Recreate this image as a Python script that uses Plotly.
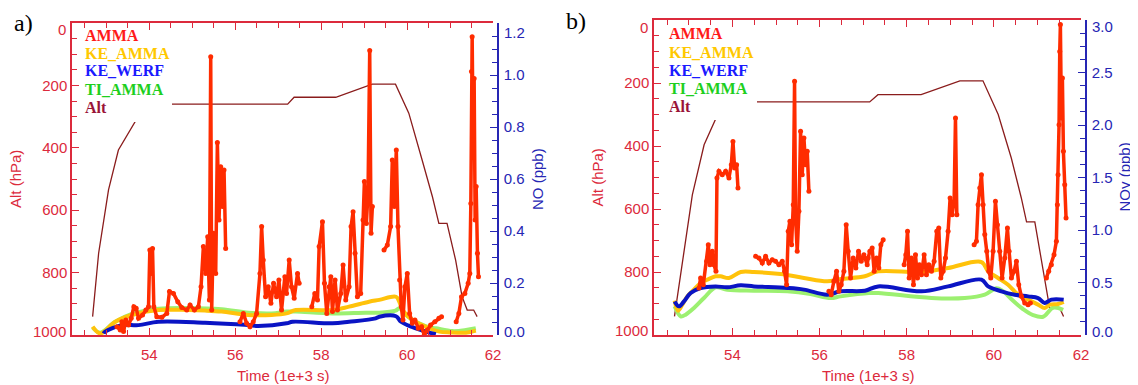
import plotly.graph_objects as go

W, H = 1138, 385
OFF = 8  # page body margin in the browser

# ---------------- Panel a data ----------------
alt_a_t = [52.68, 52.82, 53.05, 53.28, 53.67, 54.0, 54.3, 54.52, 57.22, 57.37, 58.34, 59.19, 59.73,
           60.04, 60.35, 60.59, 60.74, 60.93, 61.13, 61.28, 61.40, 61.55, 61.63]
alt_a_p = [941, 738, 535, 407, 316, 280, 262, 260, 260, 238, 238, 196, 196,
           289, 439, 557, 642, 642, 760, 877, 920, 920, 941]

red_a_t = [53.245, 53.323, 53.361, 53.40, 53.454, 53.516, 53.578, 53.640, 53.694, 53.749, 53.842, 53.919,
           53.981, 54.012, 54.043, 54.074, 54.105, 54.174, 54.291, 54.407, 54.469, 54.562, 54.662, 54.755,
           54.871, 54.949, 55.049, 55.142, 55.204, 55.258, 55.313, 55.359, 55.398, 55.429, 55.452, 55.491,
           55.545, 55.584, 55.622, 55.661, 55.70, 55.739, 55.777, None,
           56.110, 56.188, 56.265, 56.342, 56.42, 56.497, 56.575, 56.614, 56.652, 56.706, 56.768, 56.830,
           56.892, 56.962, 57.016, 57.078, 57.155, 57.194, 57.256, 57.31, 57.372, 57.45, 57.488, None,
           57.782, 57.852, 57.914, 57.953, 58.03, 58.077, 58.131, 58.185, 58.224, 58.263, 58.324, 58.379,
           58.456, 58.51, 58.572, 58.65, 58.696, 58.743, 58.789, 58.843, 58.92, 58.975, 59.006, 59.052,
           59.091, 59.13, 59.161, 59.192, None,
           59.463, 59.54, 59.617, 59.656, 59.703, 59.749, 59.788, 59.827, 59.865, 59.904, 59.95, 60.005,
           60.059, 60.121, 60.183, 60.26, 60.338, 60.40, 60.469, 60.547, 60.647, 60.74, 60.802, None,
           61.143, 61.205, 61.267, 61.345, 61.422, 61.46, 61.484, 61.499, 61.515, 61.538, 61.561, 61.584,
           61.608, 61.638, 61.662]
red_a_no = [0.032, 0.019, 0.051, 0.013, 0.058, 0.038, 0.064, 0.109, 0.103, 0.064, 0.077, 0.096,
            0.109, 0.327, 0.237, 0.333, 0.109, 0.070, 0.068, 0.083, 0.167, 0.160, 0.128, 0.106,
            0.096, 0.115, 0.096, 0.109, 0.186, 0.340, 0.237, 0.378, 0.135, 1.070, 0.096, 0.391,
            0.237, 0.740, 0.442, 0.647, 0.494, 0.635, 0.333, None,
            0.051, 0.083, 0.045, 0.032, 0.051, 0.083, 0.237, 0.417, 0.288, 0.147, 0.186, 0.122,
            0.199, 0.147, 0.212, 0.096, 0.224, 0.160, 0.288, 0.186, 0.141, 0.237, 0.199, None,
            0.109, 0.160, 0.135, 0.340, 0.436, 0.199, 0.083, 0.186, 0.224, 0.090, 0.212, 0.096,
            0.160, 0.269, 0.135, 0.186, 0.417, 0.474, 0.314, 0.147, 0.160, 0.442, 0.590, 0.429,
            0.545, 1.094, 0.391, 0.494, None,
            0.327, 0.346, 0.417, 0.673, 0.494, 0.712, 0.417, 0.212, 0.109, 0.058, 0.186, 0.237,
            0.083, 0.045, 0.058, 0.026, 0.032, 0.0, 0.019, 0.038, 0.051, 0.064, 0.070, None,
            0.051, 0.083, 0.147, 0.160, 0.199, 0.237, 0.506, 1.013, 1.147, 0.750, 0.987, 0.442,
            0.571, 0.314, 0.224]

ke_amma_a_t = [52.68, 52.858, 53.207, 53.594, 54.213, 54.91, 55.297, 55.684, 56.304, 56.846, 57.194,
               57.41, 58.262, 58.65, 59.114, 59.354, 59.742, 59.819, 59.896, 60.128, 60.516, 60.75,
               61.0, 61.37, 61.6]
ke_amma_a = [0.032, 0.006, 0.051, 0.077, 0.096, 0.096, 0.094, 0.090, 0.077, 0.077, 0.083,
             0.096, 0.096, 0.109, 0.128, 0.135, 0.147, 0.128, 0.096, 0.058, 0.026, 0.013,
             0.010, 0.009, 0.017]

ke_werf_a_t = [52.935, 52.974, 53.361, 53.749, 54.213, 55.297, 56.304, 56.536, 57.194, 57.333, 58.262,
               58.65, 59.269, 59.354, 59.742, 59.858, 60.128, 60.439, 60.67]
ke_werf_a = [0.006, 0.013, 0.038, 0.038, 0.051, 0.047, 0.038, 0.035, 0.045, 0.051, 0.045,
             0.051, 0.064, 0.070, 0.072, 0.051, 0.030, 0.013, 0.003]

ti_amma_a_t = [52.68, 52.858, 53.207, 53.594, 54.213, 54.91, 55.684, 56.304, 56.846, 57.194, 57.41,
               58.262, 59.037, 59.354, 59.734, 59.819, 59.974, 60.128, 60.28, 60.516, 60.67, 61.06,
               61.37, 61.6]
ti_amma_a = [0.029, 0.009, 0.051, 0.081, 0.101, 0.104, 0.099, 0.086, 0.083, 0.090, 0.090,
             0.083, 0.086, 0.086, 0.094, 0.103, 0.077, 0.058, 0.045, 0.030, 0.026, 0.015,
             0.019, 0.026]

# ---------------- Panel b data ----------------
alt_b_t = [52.67, 52.89, 53.08, 53.35, 53.61, 54.0, 54.3, 54.53, 57.15, 57.34, 58.33, 59.22, 59.75,
           60.10, 60.40, 60.63, 60.75, 60.94, 61.09, 61.20, 61.28, 61.51, 61.60]
alt_b_p = [941, 734, 555, 396, 316, 280, 263, 260, 260, 237, 237, 193, 193,
           300, 438, 565, 641, 641, 756, 851, 914, 914, 941]

red_b_t = [53.232, 53.27, 53.331, 53.408, 53.446, 53.484, 53.538, 53.576, 53.622, 53.645, 53.691,
           53.767, 53.844, 53.92, 53.974, 54.012, 54.05, 54.096, 54.127, None,
           54.532, 54.608, 54.685, 54.761, 54.838, 54.914, 54.99, 55.067, 55.143, 55.197, 55.243,
           55.281, 55.319, 55.358, 55.396, 55.426, 55.449, 55.487, 55.526, 55.564, 55.602, 55.641,
           55.679, 55.717, 55.755, None,
           56.214, 56.267, 56.328, 56.39, 56.443, 56.497, 56.558, 56.611, 56.657, 56.711, 56.772,
           56.833, 56.894, 56.956, 57.017, 57.093, 57.115, 57.154, 57.207, 57.253, 57.307, 57.36,
           57.406, 57.46, None,
           57.941, 57.979, 58.018, 58.056, 58.109, 58.155, 58.201, 58.247, 58.293, 58.339, 58.40,
           58.453, 58.507, 58.568, 58.629, 58.69, 58.736, 58.782, 58.836, 58.89, 58.95, 58.996,
           59.042, 59.088, 59.119, 59.15, None,
           59.547, 59.60, 59.638, 59.677, 59.715, 59.753, 59.791, 59.837, 59.883, 59.929, 59.982,
           60.036, 60.082, 60.135, 60.189, 60.25, 60.311, 60.35, 60.403, 60.464, 60.518, 60.571,
           60.632, 60.709, 60.785, 60.839, None,
           61.206, 61.259, 61.32, 61.381, 61.435, 61.458, 61.473, 61.496, 61.512, 61.527, 61.55,
           61.573, 61.596, 61.626, 61.657]
red_b_noy = [0.448, 0.543, 0.479, 0.702, 0.860, 0.670, 0.797, 0.670, 0.606, 1.495, 1.559,
             1.527, 1.559, 1.495, 1.622, 1.844, 1.590, 1.622, 1.400, None,
             0.749, 0.733, 0.686, 0.749, 0.686, 0.717, 0.702, 0.670, 0.702, 0.606, 0.479,
             0.987, 1.083, 0.860, 1.241, 2.416, 1.114, 0.797, 1.178, 1.940, 1.527, 1.876,
             1.622, 1.749, 1.368, None,
             0.416, 0.384, 0.511, 0.606, 0.416, 0.479, 0.606, 1.051, 0.797, 0.543, 0.733,
             0.638, 0.797, 0.702, 0.765, 0.670, 0.733, 0.797, 0.829, 0.606, 0.733, 0.638,
             0.860, 0.908, None,
             0.670, 0.765, 0.987, 0.543, 0.733, 0.479, 0.765, 0.543, 0.670, 0.575, 0.765,
             0.575, 0.670, 0.606, 0.702, 0.987, 1.019, 0.543, 0.606, 0.733, 0.987, 1.305,
             1.146, 1.273, 2.067, 1.146, None,
             0.860, 0.892, 1.241, 1.400, 1.527, 1.241, 0.956, 0.797, 0.606, 0.543, 0.797,
             1.273, 1.051, 0.797, 0.543, 0.733, 1.019, 0.797, 0.543, 0.606, 0.702, 0.479,
             0.368, 0.305, 0.289, 0.305, None,
             0.543, 0.606, 0.670, 0.765, 0.892, 1.241, 1.527, 2.003, 2.700, 2.956, 2.067,
             2.448, 1.749, 1.432, 1.114]

ke_amma_b_t = [52.674, 52.75, 52.85, 52.965, 53.117, 53.27, 53.423, 53.614, 53.729, 53.92, 54.188,
               54.494, 55.105, 55.64, 56.175, 56.481, 57.039, 57.345, 58.339, 58.95, 59.715, 59.868,
               60.097, 60.326, 60.556, 60.785, 61.015, 61.167, 61.282, 61.473, 61.603]
ke_amma_b = [0.327, 0.232, 0.289, 0.368, 0.432, 0.495, 0.527, 0.559, 0.559, 0.543, 0.600,
             0.600, 0.581, 0.543, 0.511, 0.533, 0.559, 0.606, 0.600, 0.638, 0.695, 0.606,
             0.543, 0.479, 0.384, 0.337, 0.289, 0.257, 0.289, 0.295, 0.314]

ke_werf_b_t = [52.674, 52.773, 52.888, 53.041, 53.27, 53.614, 53.882, 54.188, 54.494, 55.258, 55.64,
               56.175, 56.481, 57.039, 57.345, 58.339, 58.95, 59.715, 59.868, 60.174, 60.48, 60.785,
               61.015, 61.167, 61.32, 61.603]
ke_werf_b = [0.320, 0.273, 0.320, 0.400, 0.448, 0.463, 0.454, 0.473, 0.463, 0.448, 0.432,
             0.384, 0.416, 0.422, 0.463, 0.416, 0.463, 0.527, 0.463, 0.416, 0.384, 0.368,
             0.352, 0.305, 0.337, 0.337]

ti_amma_b_t = [52.674, 52.812, 52.926, 53.117, 53.347, 53.614, 53.882, 54.494, 55.258, 55.793, 56.252,
               56.481, 57.132, 57.345, 58.568, 59.333, 59.792, 60.06, 60.20, 60.43, 60.66, 60.90,
               61.13, 61.36, 61.59]
ti_amma_b = [0.273, 0.178, 0.194, 0.257, 0.352, 0.454, 0.432, 0.422, 0.416, 0.390, 0.352,
             0.368, 0.400, 0.400, 0.352, 0.352, 0.384, 0.445, 0.420, 0.330, 0.250, 0.190,
             0.174, 0.260, 0.240]

x_ticks = [54, 56, 58, 60, 62]
alt_ticks = [0, 200, 400, 600, 800, 1000]
alt_labels = ["0", "200", "400", "600", "800", "1000"]
no_ticks = [0.0, 0.2, 0.4, 0.6, 0.8, 1.0, 1.2]
no_labels = ["0.0", "0.2", "0.4", "0.6", "0.8", "1.0", "1.2"]
noy_ticks = [0.0, 0.5, 1.0, 1.5, 2.0, 2.5, 3.0]
noy_labels = ["0.0", "0.5", "1.0", "1.5", "2.0", "2.5", "3.0"]
legend_names = ["AMMA", "KE_AMMA", "KE_WERF", "TI_AMMA", "Alt"]

# ---------------- styles ----------------
RED_AX = "#dc2a3c"
BLUE_AX = "#2626b4"
C_RED = "#ff2c00"
C_YEL = "#ffc20a"
C_BLU = "#0a14c4"
C_GRN = "#9cf070"
C_ALT = "#8a1c1c"
LEG_COLORS = ["#ff1a1a", "#ffc800", "#1a1aff", "#1ecf1e", "#9a1438"]
SANS = "Liberation Sans, Arial, sans-serif"
SERIF = "Liberation Serif, Times New Roman, serif"


def px(x):
    return (x - OFF) / W


def py(y):
    return 1 - (y - OFF) / H


fig = go.Figure()

panels = [
    dict(xa="x", ya="y", ya2="y2", alt_t=alt_a_t, alt_p=alt_a_p, red_t=red_a_t, red_v=red_a_no,
         ke_t=ke_amma_a_t, ke=ke_amma_a, kw_t=ke_werf_a_t, kw=ke_werf_a, ti_t=ti_amma_a_t, ti=ti_amma_a),
    dict(xa="x2", ya="y3", ya2="y4", alt_t=alt_b_t, alt_p=alt_b_p, red_t=red_b_t, red_v=red_b_noy,
         ke_t=ke_amma_b_t, ke=ke_amma_b, kw_t=ke_werf_b_t, kw=ke_werf_b, ti_t=ti_amma_b_t, ti=ti_amma_b),
]

for p in panels:
    fig.add_trace(go.Scatter(x=p["alt_t"], y=p["alt_p"], mode="lines", xaxis=p["xa"], yaxis=p["ya"],
                             line=dict(color=C_ALT, width=1.3), showlegend=False, hoverinfo="skip"))
    fig.add_trace(go.Scatter(x=p["ti_t"], y=p["ti"], mode="lines", xaxis=p["xa"], yaxis=p["ya2"],
                             line=dict(color=C_GRN, width=4, shape="spline"), showlegend=False))
    fig.add_trace(go.Scatter(x=p["ke_t"], y=p["ke"], mode="lines", xaxis=p["xa"], yaxis=p["ya2"],
                             line=dict(color=C_YEL, width=4, shape="spline"), showlegend=False))
    fig.add_trace(go.Scatter(x=p["kw_t"], y=p["kw"], mode="lines", xaxis=p["xa"], yaxis=p["ya2"],
                             line=dict(color=C_BLU, width=4, shape="spline"), showlegend=False))
    fig.add_trace(go.Scatter(x=p["red_t"], y=p["red_v"], mode="lines+markers", xaxis=p["xa"],
                             yaxis=p["ya2"], connectgaps=False,
                             line=dict(color=C_RED, width=3.5), marker=dict(color=C_RED, size=5),
                             showlegend=False))

# geometry (pixels, as seen in the picture)
A = dict(l=72, r=493, t=23, b=335, rax=498)
B = dict(l=654, r=1081, t=20, b=335, rax=1086)

tickfont_red = dict(family=SANS, size=15, color=RED_AX)
tickfont_blue = dict(family=SANS, size=15, color=BLUE_AX)

def xaxis_cfg(g, anchor):
    return dict(domain=[px(g["l"]), px(g["r"])], anchor=anchor, range=[52.2, 62], automargin=False,
                tickmode="array", tickvals=x_ticks, ticks="inside", ticklen=7, tickwidth=1.2,
                tickcolor=RED_AX, showline=True, linecolor=RED_AX, linewidth=1.5, mirror="ticks",
                showgrid=False, zeroline=False, tickfont=tickfont_red, ticklabelstandoff=5,
                minor=dict(dtick=0.5, tick0=52.5, ticks="inside", ticklen=5, tickcolor=RED_AX,
                           tickwidth=1.2, showgrid=False))

def hide_edges(labels):
    return [""] + labels[1:-1] + [""]

def yalt_cfg(g, anchor):
    return dict(domain=[py(g["b"]), py(g["t"])], anchor=anchor, range=[1000, 0], automargin=False,
                tickmode="array", tickvals=alt_ticks, ticktext=hide_edges(alt_labels),
                ticks="inside", ticklen=7, tickwidth=1.2,
                tickcolor=RED_AX, showline=True, linecolor=RED_AX, linewidth=1.5, mirror=False,
                showgrid=False, zeroline=False, tickfont=tickfont_red, ticklabelstandoff=0,
                minor=dict(dtick=50, tick0=0, ticks="inside", ticklen=5, tickcolor=RED_AX,
                           tickwidth=1.2, showgrid=False))

def yno_cfg(g, overl, rng, vals, labels, minor_dt):
    return dict(overlaying=overl, side="right", anchor="free", position=px(g["rax"]), range=rng,
                automargin=False,
                tickmode="array", tickvals=vals, ticktext=hide_edges(labels), ticks="inside", ticklen=7,
                tickwidth=1.2, tickcolor=BLUE_AX, showline=True, linecolor=BLUE_AX, linewidth=1.5,
                showgrid=False, zeroline=False, tickfont=tickfont_blue, ticklabelstandoff=2,
                minor=dict(dtick=minor_dt, tick0=0, ticks="inside", ticklen=5, tickcolor=BLUE_AX,
                           tickwidth=1.2, showgrid=False))

fig.update_layout(
    width=W, height=H, margin=dict(l=0, r=0, t=0, b=0, autoexpand=False),
    paper_bgcolor="white", plot_bgcolor="white", showlegend=False,
    xaxis=xaxis_cfg(A, "y"), yaxis=yalt_cfg(A, "x"),
    yaxis2=yno_cfg(A, "y", [0, 1.2], no_ticks, no_labels, 0.05),
    xaxis2=xaxis_cfg(B, "y3"), yaxis3=yalt_cfg(B, "x2"),
    yaxis4=yno_cfg(B, "y3", [0, 3.0], noy_ticks, noy_labels, 0.125),
)

# white legend boxes
shapes = []
for g, x1, y1 in [(A, 172, 122), (B, 757, 120)]:
    shapes.append(dict(type="rect", xref="paper", yref="paper", x0=px(g["l"] + 8), x1=px(x1),
                       y0=py(y1), y1=py(g["t"] + 8), fillcolor="white", line=dict(width=0),
                       layer="above"))
fig.update_layout(shapes=shapes)

ann = []
def text(x, y, s, size, color, family=SANS, angle=0, xanchor="center"):
    ann.append(dict(x=px(x), y=py(y), xref="paper", yref="paper", text=s, showarrow=False,
                    xanchor=xanchor, yanchor="middle", textangle=angle,
                    font=dict(family=family, size=size, color=color)))

# edge tick labels (drawn slightly inside the frame, as in the reference)
text(68, 29, alt_labels[0], 15, RED_AX, xanchor="right")
text(68, 331, alt_labels[-1], 15, RED_AX, xanchor="right")
text(502, 32, no_labels[-1], 15, BLUE_AX, xanchor="left")
text(502, 331, no_labels[0], 15, BLUE_AX, xanchor="left")
text(650, 27, alt_labels[0], 15, RED_AX, xanchor="right")
text(650, 330, alt_labels[-1], 15, RED_AX, xanchor="right")
text(1090, 26, noy_labels[-1], 15, BLUE_AX, xanchor="left")
text(1090, 331, noy_labels[0], 15, BLUE_AX, xanchor="left")

# axis titles
text(15, 179, "Alt (hPa)", 15, RED_AX, angle=-90)
text(537, 179, "NO (ppb)", 15, BLUE_AX, angle=-90)
text(282.5, 375, "Time (1e+3 s)", 15, RED_AX)
text(597, 177.5, "Alt (hPa)", 15, RED_AX, angle=-90)
text(1124, 177.5, "NOy (ppb)", 15, BLUE_AX, angle=-90)
text(867.5, 375, "Time (1e+3 s)", 15, RED_AX)
# panel labels
text(23, 23, "a)", 24, "black", family=SERIF)
text(576, 21, "b)", 24, "black", family=SERIF)
# legend texts
for xs, ys in [(83, [35, 53, 71, 90, 108]), (667, [33, 52, 70, 88, 107])]:
    for name, yy, col in zip(legend_names, ys, LEG_COLORS):
        text(xs, yy, "<b>" + name + "</b>", 16, col, family=SERIF, xanchor="left")
fig.update_layout(annotations=ann)

fig.write_html("out.html")
